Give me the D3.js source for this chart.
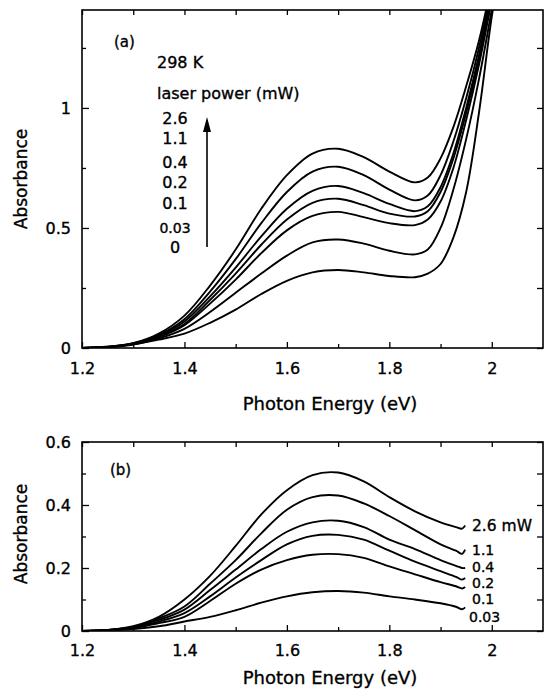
<!DOCTYPE html>
<html>
<head>
<meta charset="utf-8">
<script src="https://cdn.jsdelivr.net/npm/d3@7"></script>
<style>
body { margin: 0; background: #fff; }
text { font-family: "DejaVu Sans", sans-serif; fill: #000; stroke: #000; stroke-width: 0.35px; }
</style>
</head>
<body>
<svg width="544" height="690"></svg>
<script>
// ---- panel (a) data: absorbance vs photon energy, 298 K ----
var energyA = [1.2, 1.25, 1.3, 1.35, 1.4, 1.45, 1.5, 1.55, 1.6, 1.65, 1.7, 1.75, 1.8, 1.85, 1.875, 1.9, 1.925, 1.95, 1.975, 2.0, 2.025];
var a_26  = [0, 0.005, 0.02, 0.06, 0.135, 0.26, 0.41, 0.58, 0.72, 0.81, 0.83, 0.795, 0.735, 0.69, 0.71, 0.79, 0.92, 1.09, 1.28, 1.52, 1.8];
var a_11  = [0, 0.005, 0.02, 0.055, 0.12, 0.235, 0.37, 0.52, 0.65, 0.735, 0.755, 0.72, 0.66, 0.615, 0.635, 0.72, 0.86, 1.04, 1.25, 1.5, 1.78];
var a_04  = [0, 0.004, 0.018, 0.05, 0.11, 0.215, 0.335, 0.465, 0.58, 0.655, 0.675, 0.645, 0.6, 0.57, 0.59, 0.67, 0.81, 1.0, 1.22, 1.48, 1.76];
var a_02  = [0, 0.004, 0.017, 0.047, 0.1, 0.2, 0.31, 0.43, 0.535, 0.605, 0.622, 0.595, 0.56, 0.548, 0.57, 0.65, 0.79, 0.98, 1.2, 1.46, 1.75];
var a_01  = [0, 0.004, 0.016, 0.045, 0.095, 0.185, 0.285, 0.395, 0.49, 0.55, 0.567, 0.545, 0.52, 0.512, 0.535, 0.61, 0.75, 0.95, 1.18, 1.45, 1.74];
var a_003 = [0, 0.003, 0.014, 0.04, 0.08, 0.15, 0.23, 0.31, 0.385, 0.44, 0.452, 0.435, 0.405, 0.39, 0.41, 0.5, 0.66, 0.87, 1.12, 1.41, 1.72];
var a_0   = [0, 0.003, 0.015, 0.035, 0.06, 0.105, 0.16, 0.225, 0.28, 0.315, 0.325, 0.315, 0.3, 0.295, 0.31, 0.35, 0.46, 0.65, 0.98, 1.38, 1.7];
var legendA = ["2.6", "1.1", "0.4", "0.2", "0.1", "0.03", "0"];

// ---- panel (b) data: laser-induced absorbance ----
var energyB = [1.2, 1.25, 1.3, 1.35, 1.4, 1.45, 1.5, 1.55, 1.6, 1.65, 1.7, 1.75, 1.8, 1.85, 1.9, 1.93, 1.942, 1.948];
var b_26  = [0, 0.003, 0.015, 0.045, 0.1, 0.175, 0.27, 0.37, 0.447, 0.495, 0.503, 0.475, 0.425, 0.38, 0.345, 0.33, 0.325, 0.335];
var b_11  = [0, 0.003, 0.013, 0.04, 0.078, 0.15, 0.225, 0.31, 0.385, 0.425, 0.43, 0.405, 0.365, 0.32, 0.275, 0.255, 0.245, 0.258];
var b_04  = [0, 0.003, 0.012, 0.035, 0.068, 0.13, 0.195, 0.26, 0.315, 0.345, 0.35, 0.33, 0.29, 0.26, 0.225, 0.207, 0.2, 0.2];
var b_02  = [0, 0.003, 0.011, 0.03, 0.057, 0.11, 0.17, 0.225, 0.275, 0.302, 0.305, 0.29, 0.255, 0.22, 0.19, 0.172, 0.163, 0.168];
var b_01  = [0, 0.002, 0.009, 0.025, 0.045, 0.095, 0.15, 0.195, 0.225, 0.242, 0.244, 0.232, 0.205, 0.18, 0.155, 0.142, 0.135, 0.14];
var b_003 = [0, 0.002, 0.006, 0.015, 0.03, 0.045, 0.066, 0.09, 0.11, 0.123, 0.127, 0.122, 0.11, 0.1, 0.088, 0.077, 0.069, 0.075];
var legendB = ["2.6 mW", "1.1", "0.4", "0.2", "0.1", "0.03"];

var xTicks = [1.2, 1.4, 1.6, 1.8, 2.0];
var xMinor = [1.3, 1.5, 1.7, 1.9];

var svg = d3.select("svg");
var x = d3.scaleLinear().domain([1.2, 2.1]).range([82, 543]);

function drawPanel(o) {
    var y = d3.scaleLinear().domain([0, o.yMax]).range([o.bottom, o.top]);
    var g = svg.append("g");

    g.append("clipPath").attr("id", o.id)
        .append("rect")
        .attr("x", x.range()[0]).attr("y", o.top)
        .attr("width", x.range()[1] - x.range()[0]).attr("height", o.bottom - o.top);

    // curves
    var line = d3.line()
        .x(function(d) { return x(d[0]); })
        .y(function(d) { return y(d[1]); })
        .curve(d3.curveCatmullRom.alpha(0.5));
    g.append("g").attr("clip-path", "url(#" + o.id + ")")
        .selectAll("path")
        .data(o.series)
        .enter()
        .append("path")
        .attr("d", function(s) { return line(o.energy.map(function(e, i) { return [e, s[i]]; })); })
        .attr("fill", "none")
        .attr("stroke", "#000")
        .attr("stroke-width", 1.9);

    // ticks (all inward), labels only on bottom/left
    var fmt = function(d) { return d3.format("~g")(d); };
    g.append("g").attr("transform", "translate(0," + o.bottom + ")")
        .call(d3.axisBottom(x).tickValues(xTicks).tickSize(-6).tickPadding(o.xPad).tickFormat(fmt));
    g.append("g").attr("transform", "translate(0," + o.bottom + ")")
        .call(d3.axisBottom(x).tickValues(xMinor).tickSize(-4).tickFormat(""));
    g.append("g").attr("transform", "translate(0," + o.top + ")")
        .call(d3.axisTop(x).tickValues(xTicks.concat(xMinor)).tickSize(-5).tickFormat(""));
    g.append("g").attr("transform", "translate(" + x.range()[0] + ",0)")
        .call(d3.axisLeft(y).tickValues(o.yTicks).tickSize(-7).tickPadding(11).tickFormat(fmt));
    g.append("g").attr("transform", "translate(" + x.range()[0] + ",0)")
        .call(d3.axisLeft(y).tickValues(o.yMinor).tickSize(-4).tickFormat(""));
    g.append("g").attr("transform", "translate(" + x.range()[1] + ",0)")
        .call(d3.axisRight(y).tickValues(o.yTicks.concat(o.yMinor)).tickSize(-6).tickFormat(""));

    g.selectAll(".domain").remove();
    g.selectAll(".tick line").attr("stroke", "#000").attr("stroke-width", 1.3);
    g.selectAll(".tick text").style("font-family", "DejaVu Sans").style("font-size", "16px").attr("fill", "#000");

    // frame
    g.append("rect")
        .attr("x", x.range()[0]).attr("y", o.top)
        .attr("width", x.range()[1] - x.range()[0]).attr("height", o.bottom - o.top)
        .attr("fill", "none").attr("stroke", "#000").attr("stroke-width", 1.6);

    // axis titles
    g.append("text")
        .attr("x", 330).attr("y", o.xTitleY)
        .attr("text-anchor", "middle")
        .style("font-size", "18px")
        .text("Photon Energy (eV)");
    g.append("text")
        .attr("transform", "translate(27," + o.yTitleC + ") rotate(-90)")
        .attr("text-anchor", "middle")
        .style("font-size", "17px")
        .text("Absorbance");

    g.append("text").attr("x", o.tag[0]).attr("y", o.tag[1])
        .style("font-size", "15px").text(o.tagText);
    return g;
}

var gA = drawPanel({
    id: "clipA", top: 10, bottom: 348, yMax: 1.408,
    yTicks: [0, 0.5, 1], yMinor: [0.25, 0.75, 1.25],
    energy: energyA, series: [a_26, a_11, a_04, a_02, a_01, a_003, a_0],
    xPad: 15, xTitleY: 410, yTitleC: 179,
    tag: [114, 47], tagText: "(a)"
});

// panel (a) annotations
gA.append("text").attr("x", 157).attr("y", 68).style("font-size", "16px").text("298 K");
gA.append("text").attr("x", 157).attr("y", 99).style("font-size", "16px").text("laser power (mW)");
var legYA = [124, 144, 168, 188, 209, 233, 253];
gA.selectAll("text.leg")
    .data(legendA)
    .enter()
    .append("text")
    .attr("class", "leg")
    .attr("x", 175)
    .attr("y", function(d, i) { return legYA[i]; })
    .attr("text-anchor", "middle")
    .style("font-size", function(d) { return d === "0.03" ? "14px" : "16px"; })
    .text(function(d) { return d; });
gA.append("line")
    .attr("x1", 207).attr("y1", 247).attr("x2", 207).attr("y2", 130)
    .attr("stroke", "#000").attr("stroke-width", 1.6);
gA.append("path")
    .attr("d", "M207,117 L203,132 L211,132 Z")
    .attr("fill", "#000");

var gB = drawPanel({
    id: "clipB", top: 442, bottom: 631, yMax: 0.6,
    yTicks: [0, 0.2, 0.4, 0.6], yMinor: [0.1, 0.3, 0.5],
    energy: energyB, series: [b_26, b_11, b_04, b_02, b_01, b_003],
    xPad: 14, xTitleY: 684, yTitleC: 534,
    tag: [110, 475], tagText: "(b)"
});

// panel (b) curve labels
var legYB = [531, 555, 572, 588, 604, 622];
gB.selectAll("text.leg")
    .data(legendB)
    .enter()
    .append("text")
    .attr("class", "leg")
    .attr("x", function(d) { return d === "0.03" ? 469 : 472; })
    .attr("y", function(d, i) { return legYB[i]; })
    .style("font-size", function(d, i) { return i === 0 ? "15.5px" : "14px"; })
    .text(function(d) { return d; });
</script>
</body>
</html>
